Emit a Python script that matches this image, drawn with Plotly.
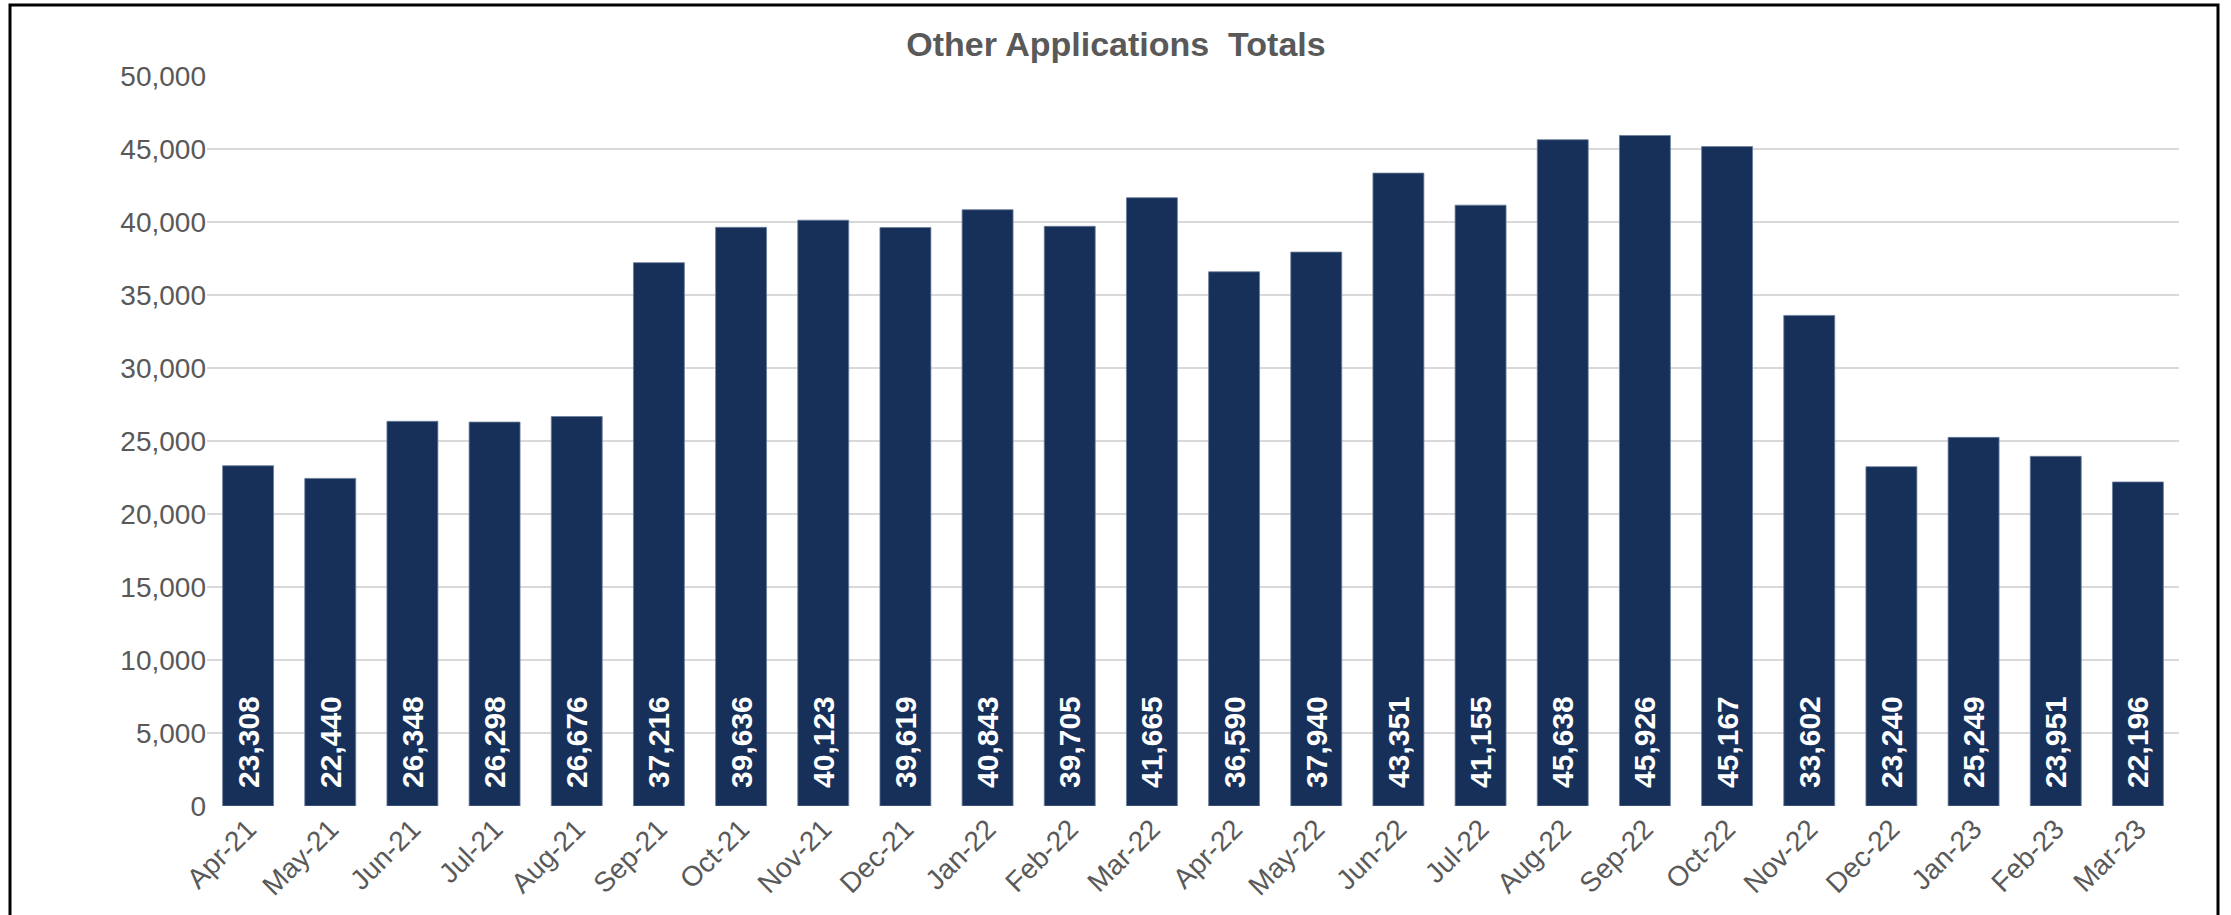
import plotly.graph_objects as go

months = ["Apr-21", "May-21", "Jun-21", "Jul-21", "Aug-21", "Sep-21", "Oct-21", "Nov-21",
          "Dec-21", "Jan-22", "Feb-22", "Mar-22", "Apr-22", "May-22", "Jun-22", "Jul-22",
          "Aug-22", "Sep-22", "Oct-22", "Nov-22", "Dec-22", "Jan-23", "Feb-23", "Mar-23"]
totals = [23308, 22440, 26348, 26298, 26676, 37216, 39636, 40123, 39619, 40843, 39705, 41665,
          36590, 37940, 43351, 41155, 45638, 45926, 45167, 33602, 23240, 25249, 23951, 22196]
title_text = "Other Applications\u00a0\u00a0Totals"
y_ticks = list(range(0, 50001, 5000))

W, H = 2231, 915
L, R, T, B = 207, 52, 76, 109
pw, ph = W - L - R, H - T - B

fig = go.Figure(go.Bar(
    x=months, y=totals,
    marker=dict(color="#17305A", line=dict(color="#6B7D99", width=0.8)),
    texttemplate="\u2002%{y:,}",
    textposition="inside", insidetextanchor="start", textangle=-90,
    textfont=dict(family="Liberation Sans, Arial", size=30, color="white", weight="bold"),
    cliponaxis=False,
))

fig.update_layout(
    width=W, height=H,
    margin=dict(l=L, r=R, t=T, b=B),
    paper_bgcolor="white", plot_bgcolor="white",
    bargap=0.38,
    showlegend=False,
    title=dict(text=title_text, x=1116 / W, xanchor="center", y=1 - 44 / H, yanchor="middle",
               font=dict(family="Liberation Sans, Arial", size=34, color="#595959", weight="bold")),
    font=dict(family="Liberation Sans, Arial", color="#595959"),
)
fig.update_yaxes(range=[0, 50000], tickvals=y_ticks, tickformat=",", showgrid=True,
                 gridcolor="#D9D9D9", gridwidth=1.5, zeroline=False, showline=False,
                 tickfont=dict(size=28, color="#595959"), ticks="", ticklen=0)
fig.update_xaxes(tickangle=-45, tickfont=dict(size=28, color="#595959"), showline=False,
                 showgrid=False, ticks="")

fig.add_shape(type="rect", xref="paper", yref="paper",
              x0=(10 - L) / pw, x1=(2218 - L) / pw,
              y0=-(20 + B) / ph, y1=(H - B - 5) / ph,
              line=dict(color="black", width=3), layer="above")

fig.write_html("out.html", config={"displayModeBar": False},
               post_script="document.body.style.margin='0';document.body.style.overflow='hidden';")
